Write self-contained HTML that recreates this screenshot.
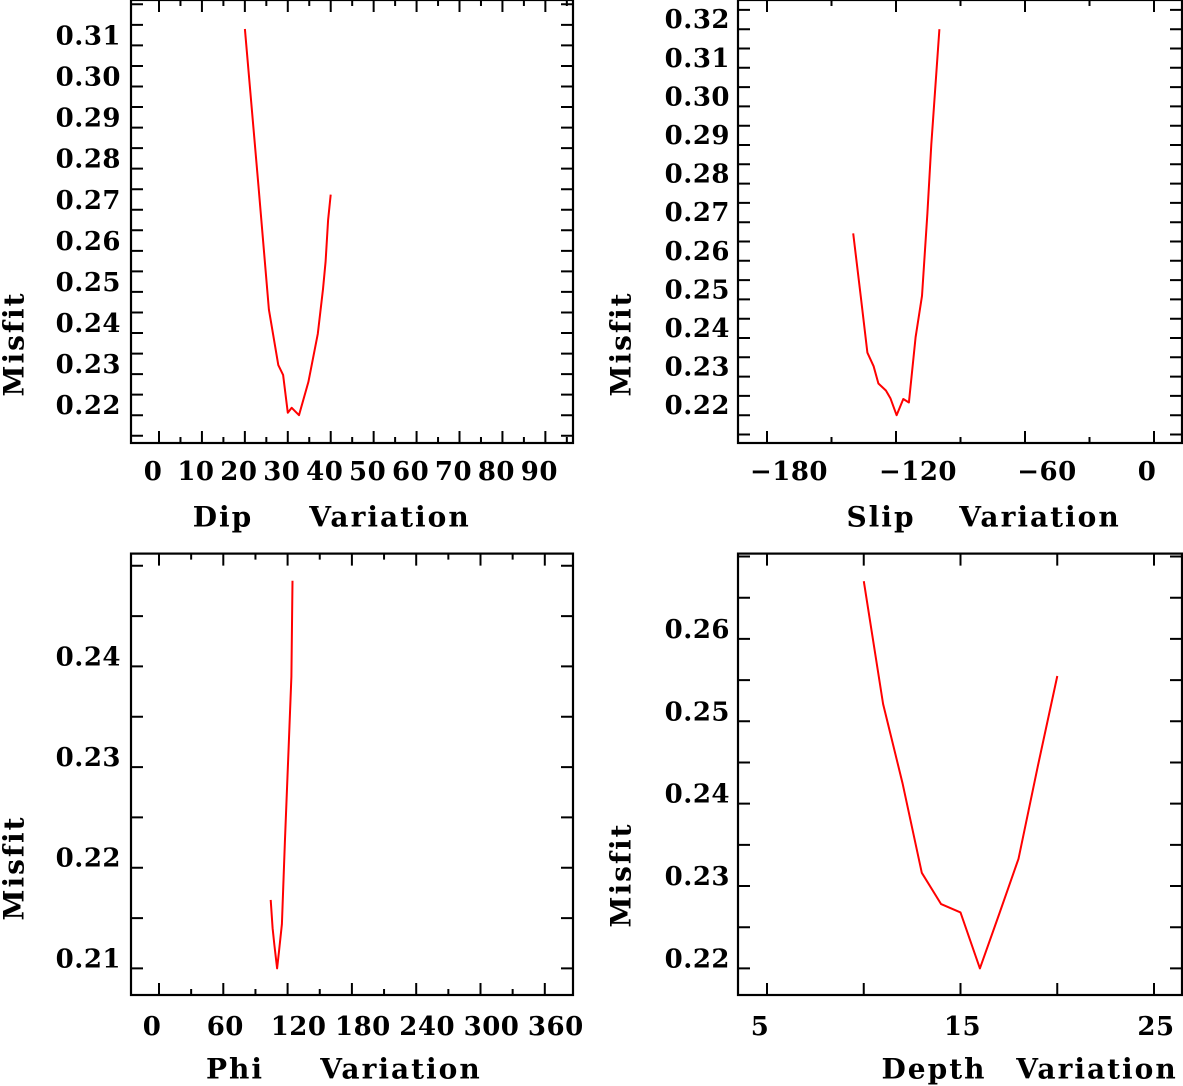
<!DOCTYPE html>
<html><head><meta charset="utf-8">
<style>
html,body{margin:0;padding:0;background:#fff;}
svg{display:block;}
text{font-family:"DejaVu Serif","Liberation Serif",serif;font-weight:bold;fill:#000;}
.tl{font-size:26px;letter-spacing:0.5px;}
.ti{font-size:28px;letter-spacing:2px;white-space:pre;}
</style></head>
<body>
<svg id="fig" width="1183" height="1086" viewBox="0 0 1183 1086" xmlns="http://www.w3.org/2000/svg"></svg>
<script>
// ---- data ----
const dipX = [20,23.2,25.6,27.8,28.9,30,30.9,32.6,34.8,37,38.2,38.8,39.4,40];
const dipY = [0.314,0.2754,0.2457,0.2322,0.2298,0.2206,0.2218,0.2200,0.2281,0.2398,0.2507,0.2574,0.2675,0.2737];
const slipX = [-139.9,-136.4,-133.3,-130.4,-128.2,-124.7,-122.6,-119.7,-116.6,-114.0,-110.9,-107.9,-105.4,-103.6,-99.8];
const slipY = [0.2671,0.2509,0.2362,0.2327,0.2282,0.2264,0.2244,0.2200,0.2242,0.2233,0.2402,0.2509,0.2723,0.2901,0.3200];
const phiX = [104.2,106,107.7,110.2,111.9,114.7,117.5,121,123.5,124.6];
const phiY = [0.2168,0.2140,0.2123,0.2100,0.2116,0.2144,0.2226,0.2321,0.2390,0.2485];
const depthX = [10,11,12,13,14,15,16,17,18,19,20];
const depthY = [0.267,0.2521,0.2425,0.2316,0.2278,0.2268,0.2200,0.2266,0.2333,0.2446,0.2555];

const dipXTicks = [0,10,20,30,40,50,60,70,80,90];
const dipYTicks = [0.22,0.23,0.24,0.25,0.26,0.27,0.28,0.29,0.30,0.31];
const slipXTicks = [-180,-120,-60,0];
const slipYTicks = [0.22,0.23,0.24,0.25,0.26,0.27,0.28,0.29,0.30,0.31,0.32];
const phiXTicks = [0,60,120,180,240,300,360];
const phiYTicks = [0.21,0.22,0.23,0.24];
const depthXTicks = [5,15,25];
const depthYTicks = [0.22,0.23,0.24,0.25,0.26];

const NS = "http://www.w3.org/2000/svg";
const svg = document.getElementById('fig');
function mk(tag, attrs, parent){
  const e = document.createElementNS(NS, tag);
  for (const k in attrs) e.setAttribute(k, attrs[k]);
  (parent||svg).appendChild(e);
  return e;
}

function panel(cfg){
  const g = mk('g', {});
  
  
  const sx = v => cfg.x0px + (v - cfg.x0) * cfg.xPer;
  const sy = v => cfg.y0px - (v - cfg.y0) * cfg.yPer;
  const L = cfg.left, R = cfg.right, T = cfg.top, B = cfg.bottom;
  const fr = mk('rect', {x:L, y:T, width:R-L, height:B-T, fill:'none', stroke:'#000', 'stroke-width':2.2}, g);
  
  
  let d = '';
  for (let v = cfg.xMinorStart; v <= cfg.xMax + 1e-9; v += cfg.xMinor) {
    const X = sx(v);
    if (X <= L + 1 || X >= R - 1) continue;
    const isMajor = Math.abs(((v - cfg.xMajorBase) / cfg.xMajor) - Math.round((v - cfg.xMajorBase) / cfg.xMajor)) < 1e-6;
    const len = isMajor ? 12 : 6;
    d += `M${X},${B}v${-len}M${X},${T}v${len}`;
  }
  for (let v = cfg.yMinorStart; v <= cfg.yMax + 1e-9; v += cfg.yMinor) {
    const Y = sy(v);
    if (Y <= T + 1 || Y >= B - 1) continue;
    d += `M${L},${Y}h12M${R},${Y}h-12`;
  }
  const tk = mk('path', {d:d, stroke:'#000', 'stroke-width':2, fill:'none'}, g);
  
  
  cfg.xTicks.forEach(v => {
    const t = mk('text', {x: sx(v) + cfg.xLabOff(v), y: cfg.xLabY, 'text-anchor':'middle', 'dominant-baseline':'central', class:'tl'}, g);
    t.textContent = (v < 0 ? '\u2212' + Math.abs(v) : String(v));
    
    
  });
  cfg.yTicks.forEach(v => {
    const t = mk('text', {x: cfg.yLabX, y: sy(v) - 9, 'text-anchor':'end', 'dominant-baseline':'central', class:'tl'}, g);
    t.textContent = v.toFixed(2);
    
    
  });
  const yt = mk('text', {x:0, y:0, transform:`translate(${cfg.yTitleX},${cfg.yTitleY}) rotate(-90)`, 'text-anchor':'middle', 'dominant-baseline':'central', class:'ti'}, g);
  yt.textContent = 'Misfit';
  
  
  cfg.xTitle.forEach(p => {
    const t = mk('text', {x:p[1], y:cfg.xTitleY, 'text-anchor':'middle', 'dominant-baseline':'central', class:'ti'}, g);
    t.textContent = p[0];
    
    
  });
  const pts = cfg.xs.map((v, i) => sx(v).toFixed(1) + ',' + sy(cfg.ys[i]).toFixed(1)).join(' ');
  const ln = mk('polyline', {points:pts, fill:'none', stroke:'#ff0000', 'stroke-width':2, 'stroke-linejoin':'round'}, g);
  
  
}

panel({name:'dip', left:131, right:573, top:0, bottom:443,
  x0:0, x0px:159, xPer:4.293, y0:0.22, y0px:415.2, yPer:(415.2-45.4)/0.09,
  xMinorStart:0, xMinor:5, xMajor:10, xMajorBase:0, xMax:95,
  yMinorStart:0.215, yMinor:0.005, yMax:0.33,
  xTicks:dipXTicks, yTicks:dipYTicks, xLabOff:v=>-6, xLabY:472, yLabX:121,
  yTitleX:14, yTitleY:344, xTitle:[['Dip',223],['Variation',390]], xTitleY:517,
  xs:dipX, ys:dipY});

panel({name:'slip', left:738, right:1182, top:0, bottom:443,
  x0:0, x0px:1154, xPer:129/60, y0:0.22, y0px:415.2, yPer:(415.2-29.2)/0.10,
  xMinorStart:-210, xMinor:30, xMajor:60, xMajorBase:0, xMax:30,
  yMinorStart:0.215, yMinor:0.005, yMax:0.33,
  xTicks:slipXTicks, yTicks:slipYTicks, xLabOff:v=>(v<0?22:-7), xLabY:472, yLabX:730,
  yTitleX:621, yTitleY:344, xTitle:[['Slip',881],['Variation',1040]], xTitleY:517,
  xs:slipX, ys:slipY});

panel({name:'phi', left:131, right:573, top:553.6, bottom:995,
  x0:0, x0px:159, xPer:32.15/30, y0:0.21, y0px:968.4, yPer:(968.4-666.4)/0.03,
  xMinorStart:-30, xMinor:30, xMajor:60, xMajorBase:0, xMax:390,
  yMinorStart:0.205, yMinor:0.005, yMax:0.25,
  xTicks:phiXTicks, yTicks:phiYTicks, xLabOff:v=>(v===0?-7:(v===60?2:11)), xLabY:1027, yLabX:121,
  yTitleX:14, yTitleY:868, xTitle:[['Phi',235],['Variation',401]], xTitleY:1069,
  xs:phiX, ys:phiY});

panel({name:'depth', left:738, right:1182, top:553.6, bottom:995,
  x0:5, x0px:767, xPer:96.75/5, y0:0.22, y0px:968.4, yPer:(968.4-638.9)/0.04,
  xMinorStart:0, xMinor:5, xMajor:5, xMajorBase:0, xMax:30,
  yMinorStart:0.215, yMinor:0.005, yMax:0.27,
  xTicks:depthXTicks, yTicks:depthYTicks, xLabOff:v=>(v===5?-7:2), xLabY:1027, yLabX:730,
  yTitleX:621, yTitleY:875, xTitle:[['Depth',934],['Variation',1097]], xTitleY:1069,
  xs:depthX, ys:depthY});
</script>
</body></html>
